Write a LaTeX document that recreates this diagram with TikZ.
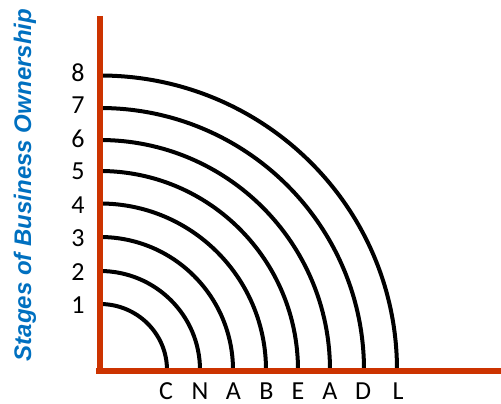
\documentclass[tikz,border=0pt]{standalone}
\usepackage{fontspec}
\setmainfont{Carlito}
\newfontfamily\titlefont{Liberation Sans}
\definecolor{axisred}{RGB}{204,51,0}
\definecolor{titleblue}{RGB}{0,112,192}
\begin{document}
\begin{tikzpicture}[x=1pt,y=-1pt,
  axisline/.style={draw=axisred,line width=6pt},
  stagearc/.style={draw=black,line width=4pt},
  lbl/.style={font=\fontsize{26}{26}\selectfont,inner sep=0pt,anchor=center},
  ttl/.style={font=\titlefont\bfseries\itshape\fontsize{24}{28}\selectfont,text=titleblue,rotate=90,inner sep=0pt,anchor=base}]
\useasboundingbox (0,0) rectangle (501,404);
\coordinate (O) at (100,370);
\coordinate (xs) at (96,370.5);
\coordinate (xe) at (501,370.5);
\coordinate (ys) at (99.7,16);
\coordinate (ye) at (99.7,373);
% arcs
\foreach \i/\rx/\ry in {1/67/66,2/100/99,3/133/133,4/166/166.5,5/198/199,6/230/230,7/264/262,8/297/294.5}{
  \draw[stagearc] (O) ++(\rx,0) arc[start angle=0,end angle=-90,x radius=\rx,y radius=\ry];
}
% axes
\draw[axisline] (xs) -- (xe);
\draw[axisline] (ys) -- (ye);
% y labels
\foreach \n/\yy in {1/305,2/272.5,3/238,4/205,5/171.5,6/139,7/105.5,8/72.5}{
  \node[lbl] (d\n) at (78,\yy) {\n};
}
% x labels
\foreach \k/\t/\xx in {1/C/166,2/N/200,3/A/233.5,4/B/266.5,5/E/298,6/A/330,7/D/363,8/L/398}{
  \node[lbl] (l\k) at (\xx,391) {\t};
}
\node[ttl] (title) at (31,185) {Stages of Business Ownership};
\end{tikzpicture}
\end{document}
